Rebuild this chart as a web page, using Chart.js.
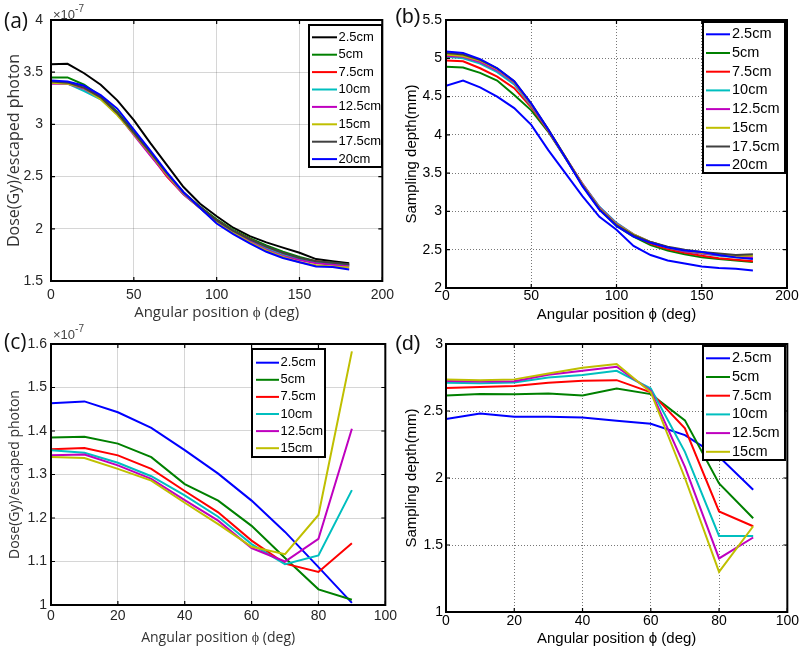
<!DOCTYPE html>
<html>
<head>
<meta charset="utf-8">
<script src="https://cdn.jsdelivr.net/npm/chart.js@4.4.0/dist/chart.umd.min.js"></script>
<style>
    body { margin: 0; width: 800px; height: 648px; background: #fff; position: relative; overflow: hidden; }
    .panel { position: absolute; }
    .plabel { position: absolute; font-size: 21px; line-height: 24px; color: #111; }
    .expo { position: absolute; font: 13px "Liberation Sans", Arial, sans-serif; line-height: 14px; color: #444; }
    .expo sup { font-size: 10px; position: relative; top: -2px; }
</style>
</head>
<body>
<div class="plabel" style="left:4px;top:8px;font-family:'Open Sans'">(a)</div>
<div class="plabel" style="left:395px;top:4px;font-family:'Liberation Sans'">(b)</div>
<div class="plabel" style="left:4px;top:329px;font-family:'Open Sans'">(c)</div>
<div class="plabel" style="left:395px;top:331px;font-family:'Liberation Sans'">(d)</div>
<div class="expo" style="left:53px;top:4px">×10<sup>-7</sup></div>
<div class="expo" style="left:53px;top:324px">×10<sup>-7</sup></div>

<script>
// 角度 (deg)
const angle180 = [0, 10, 20, 30, 40, 50, 60, 70, 80, 90, 100, 110, 120, 130, 140, 150, 160, 170, 180];
const angle90 = [0, 10, 20, 30, 40, 50, 60, 70, 80, 90];

const depths8 = ['2.5cm', '5cm', '7.5cm', '10cm', '12.5cm', '15cm', '17.5cm', '20cm'];
const depths6 = ['2.5cm', '5cm', '7.5cm', '10cm', '12.5cm', '15cm'];

// (a) Dose(Gy)/escaped photon, x1e-7
const doseA_2_5 = [3.575, 3.58, 3.49, 3.38, 3.23, 3.04, 2.82, 2.61, 2.40, 2.24, 2.12, 2.01, 1.93, 1.87, 1.82, 1.77, 1.71, 1.69, 1.67];
const doseA_5 = [3.45, 3.45, 3.38, 3.27, 3.12, 2.93, 2.72, 2.52, 2.34, 2.21, 2.09, 1.99, 1.91, 1.84, 1.78, 1.73, 1.69, 1.675, 1.655];
const doseA_7_5 = [3.41, 3.40, 3.36, 3.26, 3.10, 2.91, 2.71, 2.50, 2.33, 2.20, 2.08, 1.98, 1.90, 1.82, 1.76, 1.71, 1.69, 1.67, 1.65];
const doseA_10 = [3.40, 3.39, 3.32, 3.24, 3.10, 2.91, 2.72, 2.52, 2.33, 2.20, 2.07, 1.98, 1.89, 1.81, 1.75, 1.71, 1.68, 1.66, 1.645];
const doseA_12_5 = [3.39, 3.39, 3.34, 3.25, 3.10, 2.90, 2.70, 2.51, 2.33, 2.20, 2.07, 1.97, 1.88, 1.80, 1.74, 1.70, 1.67, 1.655, 1.64];
const doseA_15 = [3.40, 3.39, 3.35, 3.24, 3.09, 2.91, 2.72, 2.52, 2.34, 2.20, 2.06, 1.96, 1.87, 1.79, 1.73, 1.68, 1.65, 1.64, 1.63];
const doseA_17_5 = [3.41, 3.40, 3.35, 3.26, 3.11, 2.92, 2.73, 2.53, 2.35, 2.21, 2.08, 1.98, 1.90, 1.83, 1.77, 1.72, 1.69, 1.675, 1.66];
const doseA_20 = [3.42, 3.41, 3.37, 3.28, 3.15, 2.95, 2.75, 2.54, 2.35, 2.20, 2.05, 1.95, 1.86, 1.78, 1.72, 1.68, 1.64, 1.635, 1.61];

// (b) Sampling depth (mm)
const depthB_2_5 = [4.64, 4.71, 4.62, 4.50, 4.35, 4.13, 3.80, 3.50, 3.20, 2.93, 2.76, 2.55, 2.43, 2.36, 2.32, 2.28, 2.26, 2.25, 2.23];
const depthB_5 = [4.89, 4.88, 4.81, 4.71, 4.52, 4.32, 4.04, 3.70, 3.35, 3.03, 2.81, 2.67, 2.56, 2.49, 2.44, 2.40, 2.38, 2.36, 2.34];
const depthB_7_5 = [4.97, 4.96, 4.87, 4.76, 4.61, 4.36, 4.05, 3.70, 3.36, 3.05, 2.83, 2.69, 2.58, 2.51, 2.46, 2.42, 2.39, 2.37, 2.35];
const depthB_10 = [5.02, 5.00, 4.93, 4.82, 4.66, 4.38, 4.06, 3.70, 3.36, 3.06, 2.85, 2.70, 2.60, 2.53, 2.48, 2.45, 2.42, 2.40, 2.39];
const depthB_12_5 = [5.03, 5.02, 4.95, 4.84, 4.68, 4.39, 4.06, 3.71, 3.36, 3.05, 2.84, 2.70, 2.60, 2.53, 2.48, 2.45, 2.43, 2.41, 2.40];
const depthB_15 = [5.05, 5.03, 4.97, 4.86, 4.69, 4.40, 4.07, 3.71, 3.35, 3.04, 2.83, 2.70, 2.60, 2.53, 2.49, 2.46, 2.44, 2.42, 2.42];
const depthB_17_5 = [5.07, 5.05, 4.98, 4.87, 4.70, 4.41, 4.07, 3.71, 3.34, 3.03, 2.82, 2.69, 2.60, 2.54, 2.50, 2.47, 2.45, 2.43, 2.44];
const depthB_20 = [5.09, 5.07, 4.99, 4.87, 4.70, 4.41, 4.07, 3.70, 3.33, 3.02, 2.81, 2.67, 2.59, 2.53, 2.49, 2.47, 2.43, 2.40, 2.38];

// (c) Dose(Gy)/escaped photon, x1e-7
const doseC_2_5 = [1.464, 1.468, 1.443, 1.407, 1.356, 1.302, 1.240, 1.168, 1.087, 1.005];
const doseC_5 = [1.385, 1.387, 1.371, 1.340, 1.278, 1.240, 1.182, 1.108, 1.036, 1.012];
const doseC_7_5 = [1.358, 1.361, 1.344, 1.313, 1.262, 1.213, 1.148, 1.095, 1.076, 1.142];
const doseC_10 = [1.356, 1.350, 1.327, 1.296, 1.252, 1.203, 1.140, 1.094, 1.114, 1.264];
const doseC_12_5 = [1.344, 1.346, 1.321, 1.290, 1.241, 1.194, 1.131, 1.100, 1.152, 1.405];
const doseC_15 = [1.340, 1.338, 1.313, 1.286, 1.235, 1.186, 1.134, 1.117, 1.207, 1.583];

// (d) Sampling depth (mm)
const depthD_2_5 = [2.44, 2.482, 2.457, 2.457, 2.452, 2.427, 2.405, 2.32, 2.158, 1.913];
const depthD_5 = [2.615, 2.626, 2.625, 2.63, 2.615, 2.668, 2.626, 2.43, 1.96, 1.70];
const depthD_7_5 = [2.672, 2.68, 2.686, 2.71, 2.726, 2.73, 2.64, 2.37, 1.75, 1.64];
const depthD_10 = [2.71, 2.708, 2.713, 2.75, 2.768, 2.80, 2.668, 2.195, 1.568, 1.568];
const depthD_12_5 = [2.724, 2.72, 2.722, 2.77, 2.80, 2.83, 2.65, 2.083, 1.40, 1.556];
const depthD_15 = [2.736, 2.73, 2.736, 2.78, 2.823, 2.85, 2.64, 2.00, 1.30, 1.64];

const colorsA = ['#000000', '#008000', '#ff0000', '#00bfbf', '#bf00bf', '#bfbf00', '#404040', '#0000ff'];
const colorsB = ['#0000ff', '#008000', '#ff0000', '#00bfbf', '#bf00bf', '#bfbf00', '#404040', '#0000ff'];
const colorsCD = ['#0000ff', '#008000', '#ff0000', '#00bfbf', '#bf00bf', '#bfbf00'];

// 刻度文字: 4.0 -> 4
const tickText = v => String(+Number(v).toFixed(3));

// MATLAB 風格外框與內側刻度
const matlabBox = {
    id: 'matlabBox',
    afterDraw(chart, args, o) {
        const { ctx, chartArea: a, scales: { x, y } } = chart;
        ctx.save();
        ctx.strokeStyle = '#000';
        ctx.lineWidth = 1.2;
        ctx.beginPath();
        x.ticks.forEach(t => {
            const px = x.getPixelForValue(t.value);
            ctx.moveTo(px, a.bottom); ctx.lineTo(px, a.bottom - o.len);
            ctx.moveTo(px, a.top); ctx.lineTo(px, a.top + o.len);
        });
        y.ticks.forEach(t => {
            const py = y.getPixelForValue(t.value);
            ctx.moveTo(a.left, py); ctx.lineTo(a.left + o.len, py);
            ctx.moveTo(a.right, py); ctx.lineTo(a.right - o.len, py);
        });
        ctx.stroke();
        ctx.lineWidth = o.width;
        ctx.strokeRect(a.left, a.top, a.right - a.left, a.bottom - a.top);
        ctx.restore();
    }
};

// 圖內圖例
const boxLegend = {
    id: 'boxLegend',
    afterDraw(chart, args, o) {
        const ctx = chart.ctx;
        const [bx, by, bw, bh] = o.rect;
        ctx.save();
        ctx.fillStyle = '#fff';
        ctx.fillRect(bx, by, bw, bh);
        ctx.lineWidth = 2;
        ctx.strokeStyle = '#000';
        ctx.strokeRect(bx, by, bw, bh);
        ctx.font = o.font;
        ctx.textBaseline = 'middle';
        chart.data.datasets.forEach((ds, i) => {
            const y = o.row0 + i * o.step;
            ctx.strokeStyle = ds.borderColor;
            ctx.lineWidth = 2;
            ctx.beginPath();
            ctx.moveTo(o.line[0], y);
            ctx.lineTo(o.line[1], y);
            ctx.stroke();
            ctx.fillStyle = '#000';
            ctx.fillText(ds.label, o.textX, y);
        });
        ctx.restore();
    }
};

function makePanel(p) {
    const [cl, ct, cw, ch] = p.box;
    const [al, at, ar, ab] = p.area;
    const holder = document.createElement('div');
    holder.className = 'panel';
    holder.style.left = cl + 'px';
    holder.style.top = ct + 'px';
    const canvas = document.createElement('canvas');
    canvas.width = cw;
    canvas.height = ch;
    canvas.style.width = cw + 'px';
    canvas.style.height = ch + 'px';
    holder.appendChild(canvas);
    document.body.insertBefore(holder, document.body.firstChild);

    const n = p.series.length;
    const lg = p.legend;
    const tickFont = { family: p.tickFamily, size: p.tickSize };
    const titleFont = { family: p.titleFamily, size: p.titleSize };
    const dotted = p.dotted;

    new Chart(canvas, {
        type: 'line',
        data: {
            datasets: p.series.map((s, i) => ({
                label: p.names[i],
                data: p.x.map((x, j) => ({ x: x, y: s[j] })),
                borderColor: p.colors[i],
                borderWidth: 2,
                pointRadius: 0,
                tension: 0,
                fill: false,
                order: n - i
            }))
        },
        options: {
            responsive: false,
            animation: false,
            devicePixelRatio: 1,
            layout: { padding: { left: 0, top: at - ct, right: cl + cw - ar, bottom: 0 } },
            plugins: {
                legend: { display: false },
                tooltip: { enabled: false },
                matlabBox: { len: 4, width: 2 },
                boxLegend: {
                    rect: [lg.rect[0] - cl, lg.rect[1] - ct, lg.rect[2], lg.rect[3]],
                    row0: lg.row0 - ct,
                    step: lg.step,
                    line: [lg.line[0] - cl, lg.line[1] - cl],
                    textX: lg.textX - cl,
                    font: lg.font
                }
            },
            scales: {
                x: {
                    type: 'linear',
                    min: p.xMin, max: p.xMax,
                    ticks: { stepSize: p.xStep, autoSkip: false, maxRotation: 0, padding: p.xTickPad, font: tickFont, color: p.tickColor, callback: tickText },
                    grid: { color: p.gridColor, lineWidth: 1, drawTicks: false },
                    border: { display: false, dash: dotted ? [1, 2] : [] },
                    title: { display: true, text: p.xTitle, font: titleFont, color: p.titleColor, padding: { top: 0, bottom: p.xTitlePad } },
                    afterFit: s => { s.height = ct + ch - ab; }
                },
                y: {
                    min: p.yMin, max: p.yMax,
                    ticks: { stepSize: p.yStep, autoSkip: false, padding: p.yTickPad, font: tickFont, color: p.tickColor, callback: tickText },
                    grid: { color: p.gridColor, lineWidth: 1, drawTicks: false },
                    border: { display: false, dash: dotted ? [1, 2] : [] },
                    title: { display: true, text: p.yTitle, font: { family: p.titleFamily, size: p.yTitleSize }, color: p.titleColor, padding: { top: p.yTitlePad, bottom: 0 } },
                    afterFit: s => { s.width = al - cl; }
                }
            }
        },
        plugins: [matlabBox, boxLegend]
    });
}

// (a)
makePanel({
    box: [0, 0, 400, 330], area: [51, 20, 390, 281],
    x: angle180, names: depths8, colors: colorsA,
    series: [doseA_2_5, doseA_5, doseA_7_5, doseA_10, doseA_12_5, doseA_15, doseA_17_5, doseA_20],
    xMin: 0, xMax: 200, xStep: 50, yMin: 1.5, yMax: 4, yStep: 0.5,
    xTitle: 'Angular position ϕ (deg)', yTitle: 'Dose(Gy)/escaped photon',
    tickFamily: 'Liberation Sans', tickSize: 14, tickColor: '#262626',
    titleFamily: 'Open Sans', titleSize: 15, yTitleSize: 16, titleColor: '#333',
    gridColor: 'rgba(0,0,0,0.16)', dotted: false,
    xTickPad: 6, xTitlePad: 8, yTickPad: 8, yTitlePad: 5,
    legend: { rect: [309, 25, 73, 142], row0: 37.3, step: 17.4, line: [312, 337], textX: 338.5, font: '13px "Liberation Sans"' }
});

// (b)
makePanel({
    box: [400, 0, 400, 330], area: [446, 20, 787, 288],
    x: angle180, names: depths8, colors: colorsB,
    series: [depthB_2_5, depthB_5, depthB_7_5, depthB_10, depthB_12_5, depthB_15, depthB_17_5, depthB_20],
    xMin: 0, xMax: 200, xStep: 50, yMin: 2, yMax: 5.5, yStep: 0.5,
    xTitle: 'Angular position ϕ (deg)', yTitle: 'Sampling depth(mm)',
    tickFamily: 'Liberation Sans', tickSize: 14, tickColor: '#000',
    titleFamily: 'Liberation Sans', titleSize: 15, yTitleSize: 15, titleColor: '#000',
    gridColor: '#777', dotted: true,
    xTickPad: 0, xTitlePad: 6, yTickPad: 4, yTitlePad: 3,
    legend: { rect: [703, 22, 82, 151], row0: 34.3, step: 18.7, line: [706, 730], textX: 732, font: '14.5px "Liberation Sans"' }
});

// (c)
makePanel({
    box: [0, 320, 400, 328], area: [51, 344, 390, 605],
    x: angle90, names: depths6, colors: colorsCD,
    series: [doseC_2_5, doseC_5, doseC_7_5, doseC_10, doseC_12_5, doseC_15],
    xMin: 0, xMax: 100, xStep: 20, yMin: 1, yMax: 1.6, yStep: 0.1,
    xTitle: 'Angular position ϕ (deg)', yTitle: 'Dose(Gy)/escaped photon',
    tickFamily: 'Liberation Sans', tickSize: 14, tickColor: '#262626',
    titleFamily: 'Open Sans', titleSize: 14, yTitleSize: 14, titleColor: '#333',
    gridColor: 'rgba(0,0,0,0.16)', dotted: false,
    xTickPad: 3, xTitlePad: 2, yTickPad: 4, yTitlePad: 7,
    legend: { rect: [252, 349, 73, 108], row0: 362.7, step: 17.1, line: [256, 279], textX: 280.5, font: '13px "Liberation Sans"' }
});

// (d)
makePanel({
    box: [400, 320, 400, 328], area: [446, 344, 788, 612],
    x: angle90, names: depths6, colors: colorsCD,
    series: [depthD_2_5, depthD_5, depthD_7_5, depthD_10, depthD_12_5, depthD_15],
    xMin: 0, xMax: 100, xStep: 20, yMin: 1, yMax: 3, yStep: 0.5,
    xTitle: 'Angular position ϕ (deg)', yTitle: 'Sampling depth(mm)',
    tickFamily: 'Liberation Sans', tickSize: 14, tickColor: '#000',
    titleFamily: 'Liberation Sans', titleSize: 15, yTitleSize: 15, titleColor: '#000',
    gridColor: '#777', dotted: true,
    xTickPad: 1, xTitlePad: 0, yTickPad: 3, yTitlePad: 3,
    legend: { rect: [703, 346, 82, 114], row0: 358.3, step: 18.7, line: [706, 730], textX: 732, font: '14.5px "Liberation Sans"' }
});
</script>
</body>
</html>
